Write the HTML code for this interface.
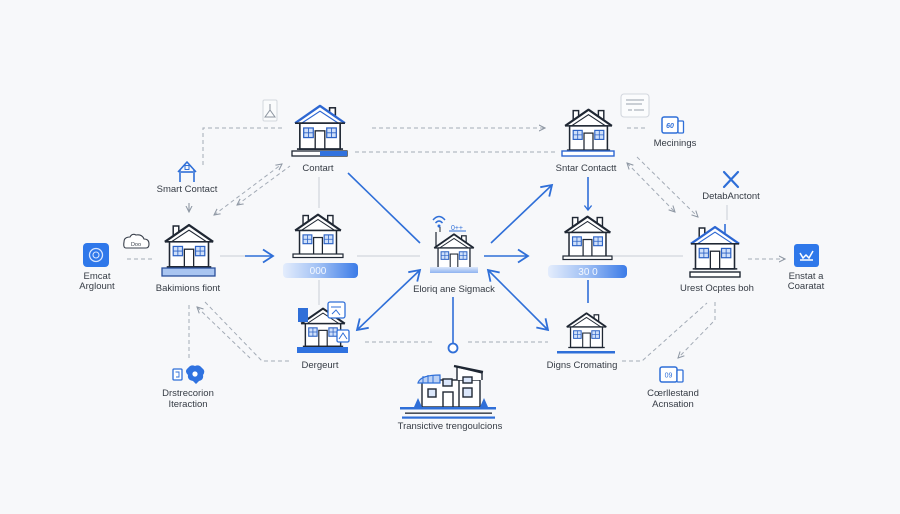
<!DOCTYPE html>
<html><head><meta charset="utf-8">
<style>
html,body{margin:0;padding:0;background:#f7f8fa;width:900px;height:514px;overflow:hidden;}
svg{display:block;}
text{font-family:"Liberation Sans",Arial,sans-serif;font-size:9.5px;fill:#363c45;text-anchor:middle;}
</style></head><body>
<svg width="900" height="514" viewBox="0 0 900 514" xmlns="http://www.w3.org/2000/svg">
<defs>
<linearGradient id="pill" x1="0" x2="1" y1="0" y2="0"><stop offset="0" stop-color="#e4edfc"/><stop offset="0.5" stop-color="#9dbef4"/><stop offset="1" stop-color="#3b7be7"/></linearGradient>
<linearGradient id="cb" x1="0" x2="0" y1="0" y2="1"><stop offset="0" stop-color="#dbe7fb"/><stop offset="1" stop-color="#8fb3f0"/></linearGradient>
<marker id="ba" viewBox="0 0 14 16" markerWidth="14" markerHeight="16" refX="12" refY="8" orient="auto-start-reverse" markerUnits="userSpaceOnUse"><path d="M2,1.5 L12,8 L2,14.5" fill="none" stroke="#2f6fd8" stroke-width="1.8"/></marker>
<marker id="bs" viewBox="0 0 10 10" markerWidth="9" markerHeight="9" refX="5" refY="8" orient="0" markerUnits="userSpaceOnUse"><path d="M1,3 L5,8 L9,3" fill="none" stroke="#2f6fd8" stroke-width="1.5"/></marker>
<marker id="ga" viewBox="0 0 8 8" markerWidth="7" markerHeight="7" refX="7" refY="4" orient="auto-start-reverse" markerUnits="userSpaceOnUse"><path d="M0,0.5 L7,4 L0,7.5" fill="none" stroke="#8f98a4" stroke-width="1.2"/></marker>
<g id="hbody">
  <path d="M2,21 L28,3 L54,21 Z" fill="#fff"/>
  <path d="M2,21 L28,3 L54,21" fill="none" stroke="currentColor" stroke-width="2.4" stroke-linejoin="round"/>
  <path d="M9,21 L28,8.5 L47,21" fill="none" stroke="currentColor" stroke-width="1.2"/>
  <path d="M2,21 H54" stroke="#1f2733" stroke-width="1.7"/>
  <rect x="7" y="21" width="42" height="27" fill="#fff" stroke="#1f2733" stroke-width="1.7"/>
  <rect x="11" y="26" width="10" height="10" fill="#cfe0fa" stroke="#2c62c4" stroke-width="1.3"/>
  <path d="M16,26 V36 M11,31 H21" stroke="#2c62c4" stroke-width="0.9"/>
  <rect x="35" y="26" width="10" height="10" fill="#cfe0fa" stroke="#2c62c4" stroke-width="1.3"/>
  <path d="M40,26 V36 M35,31 H45" stroke="#2c62c4" stroke-width="0.9"/>
  <rect x="23" y="29" width="10" height="19" fill="#fff" stroke="#1f2733" stroke-width="1.4"/>
  <path d="M4,48 H52" stroke="#1f2733" stroke-width="1.7"/>
</g>
<symbol id="h" viewBox="0 0 56 50">
  <rect x="38" y="5" width="6" height="12" fill="#fff" stroke="#1f2733" stroke-width="1.6"/>
  <use href="#hbody"/>
</symbol>
<symbol id="hL" viewBox="0 0 56 50">
  <rect x="11" y="4" width="6" height="14" fill="#fff" stroke="#1f2733" stroke-width="1.6"/>
  <use href="#hbody"/>
</symbol>
<symbol id="h2" viewBox="0 0 56 50">
  <rect x="11" y="4" width="6" height="14" fill="#fff" stroke="#1f2733" stroke-width="1.6"/>
  <rect x="39" y="4" width="6" height="14" fill="#fff" stroke="#1f2733" stroke-width="1.6"/>
  <use href="#hbody"/>
</symbol>
</defs>

<rect width="900" height="514" fill="#f7f8fa"/>

<!-- ===== gray solid thin lines ===== -->
<g stroke="#c9ced6" stroke-width="1" fill="none">
  <path d="M220,256 H245"/>
  <path d="M357,256 H420"/>
  <path d="M613,256 H683"/>
  <path d="M319,177 V208"/>
  <path d="M319,280 V305"/>
  <path d="M727,205 V220"/>
</g>

<!-- ===== gray dashed connectors ===== -->
<g stroke="#a3abb6" stroke-width="1" stroke-dasharray="4 3" fill="none">
  <path d="M282,128 H203 V165"/>
  <path d="M214,215 L282,164" marker-start="url(#ga)" marker-end="url(#ga)"/>
  <path d="M237,205 L290,166" marker-start="url(#ga)"/>
  <path d="M372,128 H545" marker-end="url(#ga)"/>
  <path d="M355,152 H555"/>
  <path d="M627,128 H647"/>
  <path d="M627,163 L675,212" marker-start="url(#ga)" marker-end="url(#ga)"/>
  <path d="M637,157 L698,217" marker-end="url(#ga)"/>
  <path d="M748,259 H785" marker-end="url(#ga)"/>
  <path d="M127,259 H152"/>
  <path d="M365,342 H432"/>
  <path d="M468,342 H548"/>
  <path d="M622,361 H642 L707,303"/>
  <path d="M715,302 V320 L678,358" marker-end="url(#ga)"/>
  <path d="M189,305 V358"/>
  <path d="M197,307 L250,358" marker-start="url(#ga)"/>
  <path d="M205,302 L262,361 H292"/>
</g>
<path d="M189,203 V212" stroke="#8f98a4" stroke-width="1.1" marker-end="url(#ga)" fill="none"/>

<!-- ===== blue connectors ===== -->
<g stroke="#2f6fd8" stroke-width="1.6" fill="none">
  <path d="M245,256 H273" marker-end="url(#ba)"/>
  <path d="M348,173 L420,243"/>
  <path d="M484,256 H528" marker-end="url(#ba)"/>
  <path d="M491,243 L552,185" marker-end="url(#ba)"/>
  <path d="M588,177 V210" marker-end="url(#bs)"/>
  <path d="M420,270 L357,330" marker-start="url(#ba)" marker-end="url(#ba)"/>
  <path d="M488,270 L548,330" marker-start="url(#ba)" marker-end="url(#ba)"/>
  <path d="M588,280 V303"/>
  <path d="M453,297 V343"/>
  <path d="M725,224 V233"/>
</g>
<circle cx="453" cy="348" r="4.5" fill="#fff" stroke="#2f6fd8" stroke-width="1.8"/>

<!-- ===== houses ===== -->
<!-- Contart -->
<use href="#h" x="293" y="103" width="54" height="48" style="color:#2d67d2"/>
<rect x="292" y="151" width="55" height="5" fill="#fff" stroke="#1f2733" stroke-width="1.3"/>
<rect x="320" y="151" width="27" height="5" fill="#3172de"/>
<text x="318" y="171">Contart</text>

<!-- Bakimions fiont -->
<use href="#hL" x="163" y="222" width="52" height="47" style="color:#1f2733"/>
<rect x="162" y="268" width="53" height="8" fill="#a9c5f1" stroke="#2b4f9a" stroke-width="1.3"/>
<text x="188" y="291">Bakimions fiont</text>

<!-- 000 house -->
<use href="#h2" x="292" y="212" width="52" height="44" style="color:#1f2733"/>
<rect x="293" y="254" width="50" height="3.5" fill="#fff" stroke="#1f2733" stroke-width="1.2"/>
<rect x="283" y="263" width="75" height="15" rx="4" fill="url(#pill)"/>
<text x="318" y="274" style="fill:#f4f8ff;font-size:10px">000</text>

<!-- Sntar Contactt -->
<use href="#h2" x="563" y="107" width="51" height="45" style="color:#1f2733"/>
<rect x="562" y="151" width="52" height="5" fill="#fff" stroke="#2d67d2" stroke-width="1.4"/>
<text x="586" y="171">Sntar Contactt</text>

<!-- 30 0 house -->
<use href="#h2" x="562" y="214" width="51" height="44" style="color:#1f2733"/>
<rect x="563" y="256" width="49" height="3.5" fill="#fff" stroke="#1f2733" stroke-width="1.2"/>
<rect x="548" y="265" width="79" height="13" rx="4" fill="url(#pill)"/>
<text x="588" y="275" style="fill:#f4f8ff;font-size:10px">30 0</text>

<!-- Center house -->
<use href="#h" x="430" y="232" width="48" height="38" style="color:#1f2733"/>
<rect x="430" y="267" width="48" height="6" fill="url(#cb)"/>
<line x1="436" y1="232" x2="436" y2="248" stroke="#1f2733" stroke-width="1.2"/>
<g fill="none" stroke="#2f6fd8" stroke-width="1.4">
  <path d="M433,220 Q439,213 445,220"/>
  <path d="M435.5,223 Q439,219 442.5,223"/>
</g>
<circle cx="439" cy="226" r="1.5" fill="#2f6fd8"/>
<path d="M440,227 V232" stroke="#1f2733" stroke-width="1"/>
<text x="457" y="230" style="fill:#2f6fd8;font-size:7px">0++</text>
<path d="M449,231 H466" stroke="#2f6fd8" stroke-width="1"/>
<text x="454" y="292">Eloriq ane Sigmack</text>

<!-- Urest Ocptes boh -->
<use href="#hL" x="689" y="223" width="52" height="49" style="color:#2d67d2"/>
<rect x="690" y="272" width="50" height="5" fill="#fff" stroke="#1f2733" stroke-width="1.4"/>
<text x="717" y="291">Urest Ocptes boh</text>

<!-- Digns Cromating -->
<use href="#h" x="565" y="311" width="43" height="38" style="color:#1f2733"/>
<rect x="557" y="351" width="58" height="2.5" fill="#2f6fd8"/>
<text x="582" y="368">Digns Cromating</text>

<!-- Dergeurt -->
<use href="#h" x="298" y="306" width="50" height="42" style="color:#1f2733"/>
<rect x="298" y="308" width="10" height="14" fill="#2f6fd8"/>
<rect x="328" y="302" width="17" height="16" rx="2" fill="#fff" stroke="#2f6fd8" stroke-width="1.3"/>
<path d="M331,307 H341 M332,314 L336,310 L340,315" stroke="#2f6fd8" stroke-width="1" fill="none"/>
<rect x="337" y="330" width="12" height="12" rx="1.5" fill="#fff" stroke="#2f6fd8" stroke-width="1.3"/>
<path d="M339,339 L343,333 L347,339" stroke="#2f6fd8" stroke-width="1" fill="none"/>
<rect x="297" y="347" width="51" height="6" fill="#2f72e0"/>
<text x="320" y="368">Dergeurt</text>

<!-- Bottom center building -->
<g stroke="#1f2733" stroke-width="1.4" fill="#fff">
  <rect x="422" y="380" width="58" height="27"/>
  <path d="M457,380 V367 L482,373 V380" />
  <path d="M459,380 V407" fill="none"/>
  <rect x="428" y="389" width="8" height="8" fill="#dbe7fb"/>
  <rect x="443" y="379" width="9" height="7" fill="#dbe7fb"/>
  <rect x="443" y="392" width="10" height="15"/>
  <rect x="463" y="377" width="9" height="6" fill="#dbe7fb"/>
  <rect x="463" y="388" width="9" height="9" fill="#dbe7fb"/>
</g>
<path d="M418,383 Q420,375 440,375 V383 Z" fill="#bcd2f5" stroke="#2f6fd8" stroke-width="1.2"/>
<path d="M423,376 V383 M428,375 V383 M433,375 V383" stroke="#2f6fd8" stroke-width="1"/>
<path d="M454,366 L483,372" stroke="#1f2733" stroke-width="2.2"/>
<path d="M414,407 L418,398 L422,407 Z M480,407 L484,398 L488,407 Z" fill="#2f6fd8"/>
<rect x="400" y="407" width="96" height="2.5" fill="#2f6fd8"/>
<rect x="405" y="412.5" width="87" height="1.3" fill="#1f2733"/>
<rect x="402" y="416.5" width="93" height="2.2" fill="#2f6fd8"/>
<text x="450" y="429">Transictive trengoulcions</text>

<!-- ===== small icons ===== -->
<rect x="263" y="100" width="14" height="21" rx="1.5" fill="#fafbfc" stroke="#d3d7dd" stroke-width="1"/>
<path d="M270,104 V110 M265,117 L270,110 L275,117 Z" stroke="#8d95a0" stroke-width="1" fill="none"/>

<g stroke="#2f6fd8" stroke-width="1.6" fill="none" stroke-linejoin="round">
  <path d="M178,172 L187,162 L196,172"/>
  <path d="M180,170 V182 M194,170 V182"/>
  <path d="M181,172 H193"/>
  <rect x="185" y="165.5" width="4" height="4" stroke-width="1"/>
</g>
<text x="187" y="192">Smart Contact</text>

<path d="M126,248 H146 Q149,248 149,244 Q149,239 144,239 Q142,234 136,235 Q132,233 130,237 Q124,237 124,242 Q123,248 126,248 Z" fill="#fff" stroke="#3a414c" stroke-width="1.1"/>
<text x="136" y="246" style="font-size:5.5px;fill:#3a414c">Doo</text>

<rect x="83" y="243" width="26" height="24" rx="4" fill="#2f78ea"/>
<circle cx="96" cy="255" r="6.5" fill="none" stroke="#d8e6ff" stroke-width="1.3"/>
<circle cx="96" cy="255" r="3" fill="none" stroke="#d8e6ff" stroke-width="1.1"/>
<text x="97" y="279">Emcat</text>
<text x="97" y="289">Arglount</text>

<rect x="621" y="94" width="28" height="23" rx="3" fill="#fbfcfd" stroke="#d3d7de" stroke-width="1.1"/>
<path d="M626,100 H644 M626,104 H642 M628,110 H632 M634,110 H644" stroke="#9aa2ad" stroke-width="1"/>

<rect x="662" y="117" width="16" height="16" rx="2" fill="#fff" stroke="#2f6fd8" stroke-width="1.5"/>
<rect x="678" y="121" width="5.5" height="12" rx="1" fill="#fff" stroke="#2f6fd8" stroke-width="1.3"/>
<text x="670" y="128" style="font-size:7px;fill:#2f6fd8;font-weight:bold;font-style:italic">60</text>
<text x="675" y="146">Mecinings</text>

<path d="M724,172 L738,187 M738,172 L724,187" stroke="#2f6fd8" stroke-width="2.2" stroke-linecap="round"/>
<text x="731" y="199">DetabAnctont</text>

<rect x="794" y="244" width="25" height="23" rx="3" fill="#2f78ea"/>
<path d="M800,253 L803,258 L806,255 L809,258 L813,251 M800,260 H813" stroke="#fff" stroke-width="1.5" fill="none"/>
<text x="806" y="279">Enstat a</text>
<text x="806" y="289">Coaratat</text>

<rect x="173" y="369" width="9" height="11" rx="1" fill="#fff" stroke="#2f6fd8" stroke-width="1.3"/>
<path d="M175.5,372 H179 V377 H176" stroke="#2f6fd8" stroke-width="0.9" fill="none"/>
<path d="M188,368 Q191,364 195,366 Q199,364 202,368 Q206,371 203,375 Q204,380 199,381 L196,384 L193,381 Q187,380 188,375 Q184,371 188,368 Z" fill="#2f72e0"/>
<circle cx="195" cy="374" r="2.6" fill="#fff"/>
<text x="188" y="396">Drstrecorion</text>
<text x="188" y="407">Iteraction</text>

<rect x="660" y="367" width="17" height="15" rx="2" fill="#fff" stroke="#2f6fd8" stroke-width="1.5"/>
<rect x="677" y="370" width="6" height="12" rx="1" fill="#fff" stroke="#2f6fd8" stroke-width="1.3"/>
<text x="668.5" y="377.5" style="font-size:7px;fill:#2f6fd8">09</text>
<text x="673" y="396">Cœrllestand</text>
<text x="673" y="407">Acnsation</text>
</svg>
</body></html>
